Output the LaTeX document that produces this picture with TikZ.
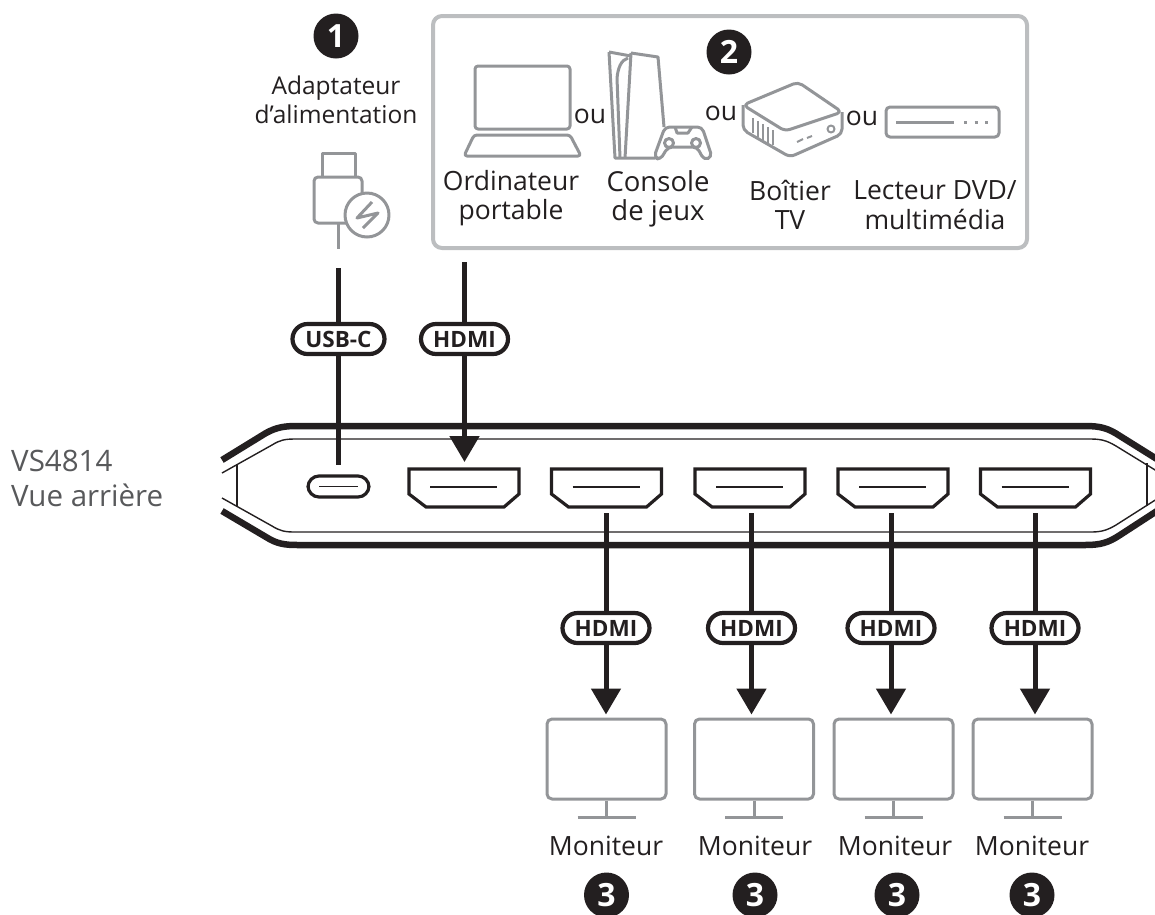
\documentclass[tikz,border=0pt]{standalone}
\usepackage{fontspec}
\setmainfont{Open Sans}
\usetikzlibrary{arrows.meta}

\definecolor{inkblack}{HTML}{231F20}
\definecolor{icongray}{HTML}{939598}
\definecolor{boxgray}{HTML}{BCBEC0}
\definecolor{devicegray}{HTML}{58595B}

\begin{document}
\begin{tikzpicture}
			[x=1pt,y=-1pt,line cap=butt,
			%Styles
			icon/.style={draw=icongray,line width=3pt,line join=round},
			thinline/.style={draw=inkblack,line width=1.4pt},
			shell/.style={draw=inkblack,line width=6.5pt},
			portline/.style={draw=inkblack,line width=3.2pt,line join=miter},
			cable/.style={draw=inkblack,line width=5pt},
			cablearrow/.style={cable,-{Triangle[length=26pt,width=29pt]}},
			pill/.style={draw=inkblack,fill=white,line width=4.2pt,rounded corners=15pt,minimum height=30pt,inner sep=0pt,text=inkblack,font=\fontsize{22.5}{22.5}\selectfont\bfseries},
			label/.style={text=inkblack,inner sep=0pt,align=center,font=\fontsize{26.5}{29.5}\selectfont},
			badge/.style={circle,fill=inkblack,text=white,minimum size=45pt,inner sep=0pt,font=\fontsize{32}{32}\selectfont\bfseries},
			monitor/.style={icon,rounded corners=5pt,minimum width=119pt,minimum height=80pt,inner sep=0pt},
			hdmiport/.pic={
				\draw[portline] (0,0) -- (110,0) -- (110,25) -- (95,38) -- (17,38) -- (0,25) -- cycle;
				\draw[thinline] (21,18) -- (88,18);
				\coordinate (-in) at (55,-7);
				\coordinate (-out) at (55,44);
			}
			]
			
			\path[use as bounding box,clip] (0,0) rectangle (1155,914);
			
			%The graphic
			
			%Device
			\draw[shell] (222,460) -- (266,433) .. controls (277,427) and (285,426) .. (298,426) -- (1085,426) .. controls (1100,426) and (1108,428) .. (1120,436) -- (1160,461);
			\draw[shell] (222,511) -- (266,537) .. controls (277,544) and (285,545) .. (298,545) -- (1085,545) .. controls (1100,545) and (1108,543) .. (1120,535) -- (1160,509);
			\draw[thinline] (222,473) -- (272,445) .. controls (280,440) and (285,439) .. (295,439) -- (1090,439) .. controls (1100,439) and (1106,440) .. (1116,446) -- (1160,473);
			\draw[thinline] (222,498) -- (272,526) .. controls (280,531) and (285,532) .. (295,532) -- (1090,532) .. controls (1100,532) and (1106,531) .. (1116,525) -- (1160,497);
			\draw[thinline] (237,465) -- (237,507);
			\draw[thinline] (1147,463) -- (1147,506);
			
			\node[text=devicegray,inner sep=0pt,align=left,anchor=west,font=\fontsize{29.5}{35}\selectfont] (device) at (11,478) {VS4814\\Vue arrière};
			
			%Ports
			\node[portline,rounded corners=11pt,minimum width=61pt,minimum height=21pt,inner sep=0pt] (portUsb) at (338.5,486.5) {};
			\draw[thinline] (319,486.5) -- (358,486.5);
			\coordinate (usbIn) at (338.5,465);
			\pic (portA) at (409,469) {hdmiport};
			\pic (portB) at (551.5,469) {hdmiport};
			\pic (portC) at (695,469) {hdmiport};
			\pic (portD) at (838,469) {hdmiport};
			\pic (portE) at (980.5,469) {hdmiport};
			
			%Power adapter
			\node[label,font=\fontsize{24.5}{29.5}\selectfont] (adapter) at (336,100) {Adaptateur\\d’alimentation};
			\node[badge] (badgeOne) at (336,36) {1};
			\draw[icon] (322,177) -- (322,153) -- (355,153) -- (355,177);
			\draw[icon,rounded corners=4pt] (314,177) rectangle (362,223);
			\node[icon,circle,fill=white,minimum size=44pt,inner sep=0pt] (bolt) at (367,215) {};
			\draw[icon] (372,202) -- (357,218) -- (378,213) -- (363,228);
			\draw[icon] (338,223) -- (338,249);
			\coordinate (adapterOut) at (338.5,268);
			
			%Sources
			\node[draw=boxgray,line width=4pt,rounded corners=9pt,minimum width=594pt,minimum height=232pt,inner sep=0pt] (sourceBox) at (730,132) {};
			\node[badge] (badgeTwo) at (729,52) {2};
			\coordinate (sourceOut) at (464.5,262);
			
			\draw[icon,rounded corners=3pt] (475,66) rectangle (570,129);
			\draw[icon,rounded corners=3pt] (474,135) -- (570,135) -- (581,156) -- (464,156) -- cycle;
			\node[label] (ouA) at (590,116) {ou};
			
			\draw[icon] (609,52) -- (631,56);
			\draw[icon] (609,52) -- (615,158) -- (655,158);
			\draw[icon] (628,58) .. controls (621,60) and (618,68) .. (617,78) -- (620,158);
			\draw[icon] (631,53) -- (658,57) -- (664,127);
			\draw[icon] (631,53) -- (625,158);
			\draw[icon,fill=white,rounded corners=4.5pt] (665,127) -- (702,127) -- (712,157) -- (704,160) -- (697,147) -- (668,147) -- (660,160) -- (654,157) -- cycle;
			\draw[icon] (675,127) -- (677,133) -- (688,133) -- (692,127);
			\draw[icon,fill=white] (669,143) circle (4.5);
			\draw[icon,fill=white] (696,143) circle (4.5);
			\node[label] (ouB) at (721,113) {ou};
			
			\draw[icon,rounded corners=5pt] (743,105) -- (798,82) -- (842,112) -- (785,131) -- cycle;
			\draw[icon,rounded corners=5pt] (743,105) -- (743,130) -- (790,157) -- (842,134) -- (842,112);
			\draw[icon,line width=2pt] (753,118) -- (753,133) (758,121) -- (758,137) (763,124) -- (763,140) (768,127) -- (768,143) (773,130) -- (773,145);
			\draw[icon,line width=2pt] (797,142) -- (803,139) (807,138) -- (812,136);
			\draw[icon,line width=2pt] (831,129) circle (3.5);
			\node[label] (ouC) at (862,118) {ou};
			
			\draw[icon,rounded corners=4pt] (886,107) rectangle (999,137);
			\draw[icon] (896,122) -- (954,122);
			\draw[icon,dash pattern=on 3pt off 7.5pt] (964,122) -- (990,122);
			
			\node[label] (laptop) at (511,198) {Ordinateur\\portable};
			\node[label,font=\fontsize{27.5}{29.5}\selectfont] (console) at (658,199) {Console\\de jeux};
			\node[label] (tvbox) at (790,205) {Boîtier\\TV};
			\node[label] (player) at (935,205) {Lecteur DVD/\\multimédia};
			
			%Monitors
			\node[monitor] (monA) at (606.5,759) {};
			\node[monitor] (monB) at (754,759) {};
			\node[monitor] (monC) at (893.5,759) {};
			\node[monitor] (monD) at (1032.5,759) {};
			\draw[icon,line cap=butt] (monA.south) -- ++(0,17) ++(-29,0) -- ++(58,0);
			\draw[icon,line cap=butt] (monB.south) -- ++(0,17) ++(-29,0) -- ++(58,0);
			\draw[icon,line cap=butt] (monC.south) -- ++(0,17) ++(-29,0) -- ++(58,0);
			\draw[icon,line cap=butt] (monD.south) -- ++(0,17) ++(-29,0) -- ++(58,0);
			
			\node[label] (nameA) at (606,846) {Moniteur};
			\node[label] (nameB) at (755,846) {Moniteur};
			\node[label] (nameC) at (895,846) {Moniteur};
			\node[label] (nameD) at (1032,846) {Moniteur};
			
			\node[badge] (badgeA) at (606.5,895) {3};
			\node[badge] (badgeB) at (755,895) {3};
			\node[badge] (badgeC) at (897,895) {3};
			\node[badge] (badgeD) at (1032,895) {3};
			
			%Cables
			\node[pill,minimum width=92pt] (pillUsb) at (338.5,339) {USB-C};
			\node[pill,minimum width=87pt] (pillSource) at (464.5,339) {HDMI};
			\node[pill,minimum width=87pt] (pillA) at (606,628) {HDMI};
			\node[pill,minimum width=87pt] (pillB) at (751.5,628) {HDMI};
			\node[pill,minimum width=87pt] (pillC) at (891,628) {HDMI};
			\node[pill,minimum width=87pt] (pillD) at (1035,628) {HDMI};
			
			\draw[cable] (adapterOut) -- (pillUsb);
			\draw[cable] (pillUsb) -- (usbIn);
			\draw[cable] (sourceOut) -- (pillSource);
			\draw[cablearrow] (pillSource) -- (pillSource |- portA-in);
			
			\draw[cable] (pillA |- portB-out) -- (pillA);
			\draw[cable] (pillB |- portC-out) -- (pillB);
			\draw[cable] (pillC |- portD-out) -- (pillC);
			\draw[cable] (pillD |- portE-out) -- (pillD);
			\draw[cablearrow,shorten >=3pt] (pillA) -- (pillA |- monA.north);
			\draw[cablearrow,shorten >=3pt] (pillB) -- (pillB |- monB.north);
			\draw[cablearrow,shorten >=3pt] (pillC) -- (pillC |- monC.north);
			\draw[cablearrow,shorten >=3pt] (pillD) -- (pillD |- monD.north);
		\end{tikzpicture}
\end{document}
